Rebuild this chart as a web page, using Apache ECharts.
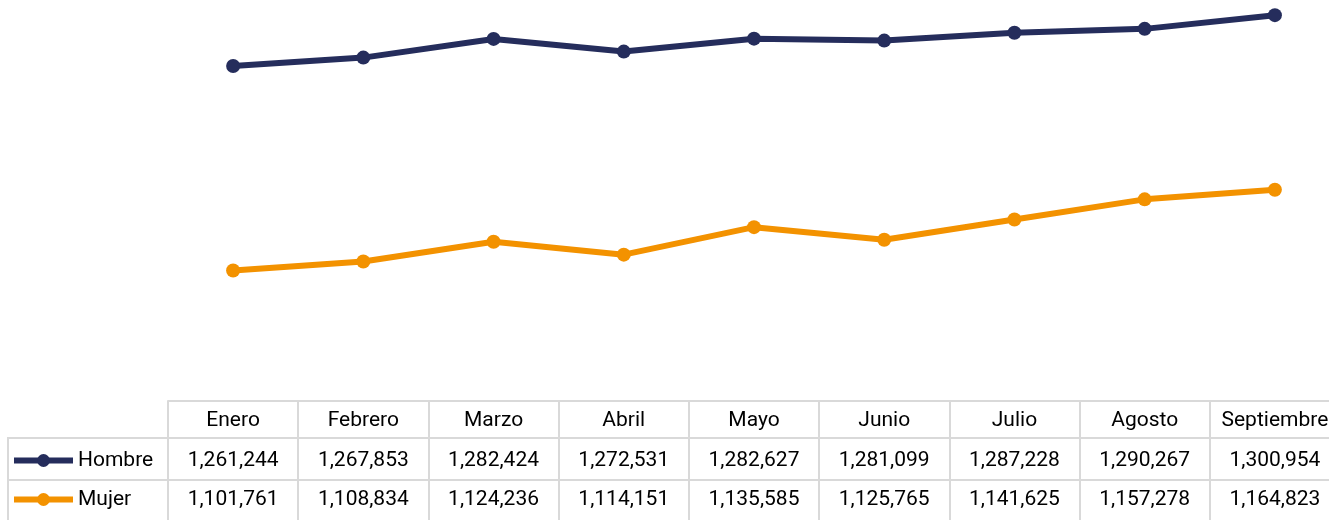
<!DOCTYPE html>
<html lang="es">
<head>
    <meta charset="UTF-8">
    <title>Hombre / Mujer</title>
    <script src="https://cdn.jsdelivr.net/npm/echarts@6/dist/echarts.min.js"></script>
    <style>
        html, body { margin: 0; padding: 0; background: #fff; overflow: hidden; }
        /* la ultima columna queda cortada por el borde, como en la imagen */
        #main { width: 1340px; height: 520px; }
    </style>
</head>
<body>
<div id="main"></div>
<script type="text/javascript">
    // datos
    var meses = ['Enero', 'Febrero', 'Marzo', 'Abril', 'Mayo', 'Junio', 'Julio', 'Agosto', 'Septiembre'];
    var hombre = [1261244, 1267853, 1282424, 1272531, 1282627, 1281099, 1287228, 1290267, 1300954];
    var mujer = [1101761, 1108834, 1124236, 1114151, 1135585, 1125765, 1141625, 1157278, 1164823];

    var azul = '#252d5c';
    var naranja = '#f39200';
    var gris = '#d9d9d9';
    var fuente = 'Roboto';

    function fmt(v) {
        return v.toLocaleString('en-US');
    }

    var myChart = echarts.init(document.getElementById('main'));

    var etiqueta = {
        fontSize: 21,
        fontFamily: fuente,
        color: '#000',
        verticalAlign: 'middle',
        interval: 0
    };

    var leyenda = {
        left: 11, padding: 0,
        itemWidth: 59, itemHeight: 16,
        lineStyle: { width: 6 },
        textStyle: { fontSize: 21, fontFamily: fuente, color: '#000' }
    };

    var option = {
        animation: false,
        grid: { left: 168, top: 1, right: 0, height: 400 },
        legend: [
            Object.assign({ data: ['Hombre'], top: 450 }, leyenda),
            Object.assign({ data: ['Mujer'], top: 489 }, leyenda)
        ],
        xAxis: [
            {
                type: 'category', data: meses, position: 'bottom',
                axisLine: { onZero: false, lineStyle: { color: gris, width: 2 } },
                axisTick: { show: true, interval: 0, length: 120, lineStyle: { color: gris, width: 2 } },
                axisLabel: Object.assign({ margin: 20 }, etiqueta)
            },
            {
                type: 'category', data: meses, position: 'bottom',
                axisLine: { show: false }, axisTick: { show: false },
                axisLabel: Object.assign({ margin: 60, formatter: function (v, i) { return fmt(hombre[i]); } }, etiqueta)
            },
            {
                type: 'category', data: meses, position: 'bottom',
                axisLine: { show: false }, axisTick: { show: false },
                axisLabel: Object.assign({ margin: 98.5, formatter: function (v, i) { return fmt(mujer[i]); } }, etiqueta)
            }
        ],
        yAxis: {
            type: 'value', min: 1000000, max: 1312000, show: false
        },
        // bordes de la tabla (decoracion)
        graphic: [
            { type: 'line', shape: { x1: 8, y1: 438, x2: 1340, y2: 438 }, style: { stroke: gris, lineWidth: 2 } },
            { type: 'line', shape: { x1: 8, y1: 480, x2: 1340, y2: 480 }, style: { stroke: gris, lineWidth: 2 } },
            { type: 'line', shape: { x1: 8, y1: 437, x2: 8, y2: 520 }, style: { stroke: gris, lineWidth: 2 } }
        ],
        series: [
            {
                name: 'Hombre', type: 'line', data: hombre,
                symbol: 'circle', symbolSize: 14,
                itemStyle: { color: azul },
                lineStyle: { color: azul, width: 6 }
            },
            {
                name: 'Mujer', type: 'line', data: mujer,
                symbol: 'circle', symbolSize: 14,
                itemStyle: { color: naranja },
                lineStyle: { color: naranja, width: 6 }
            }
        ]
    };

    myChart.setOption(option);
</script>
</body>
</html>
